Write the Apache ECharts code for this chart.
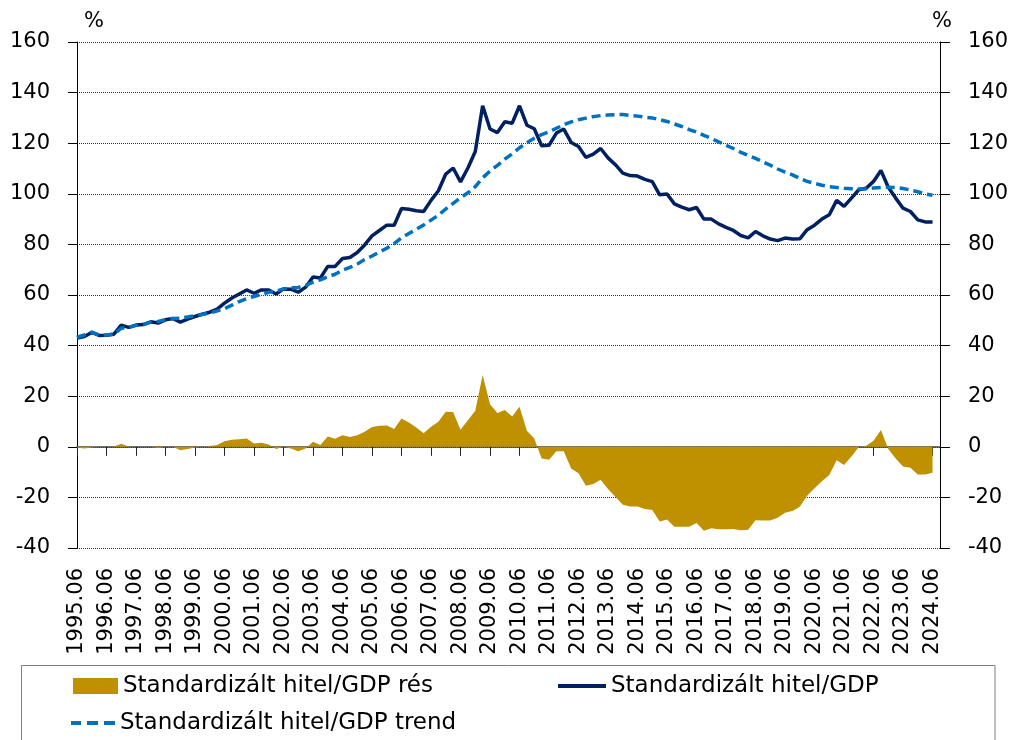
<!DOCTYPE html>
<html>
<head>
<meta charset="utf-8">
<script src="https://cdn.jsdelivr.net/npm/echarts@6/dist/echarts.min.js"></script>
<style>
html,body{margin:0;padding:0;background:#fff;}
#chart{width:1011px;height:740px;}
</style>
</head>
<body>
<div id="chart"></div>
<script>
// Quarterly categories 1995.06 .. 2024.06
const categories = [];
(function(){
  const months = ['03','06','09','12'];
  let y = 1995, q = 1;
  while (!(y === 2024 && q === 2)) {
    categories.push(y + '.' + months[q]);
    q++; if (q > 3) { q = 0; y++; }
  }
  categories.push('2024.06');
})();

const creditGDP = [43.0,43.6,45.2,44.0,44.1,44.5,48.1,47.2,48.1,48.3,49.4,48.9,50.2,50.7,49.3,50.5,51.5,52.4,53.2,54.4,
  56.8,58.8,60.4,62.0,60.7,62.0,62.0,60.4,62.4,62.3,61.1,63.1,67.1,66.7,71.3,71.3,74.4,74.8,76.8,79.8,
  83.4,85.5,87.6,87.6,94.2,93.9,93.3,93.0,97.4,101.2,107.8,110.2,104.7,110.2,116.7,134.8,125.6,124.2,128.5,127.9,
  134.8,127.1,125.7,119.0,119.2,124.0,125.6,120.3,118.7,114.4,115.7,117.9,114.2,111.5,108.2,107.2,107.0,105.7,104.8,99.6,
  99.9,96.0,94.7,93.7,94.6,90.0,90.0,88.1,86.7,85.5,83.5,82.6,85.1,83.4,82.1,81.5,82.5,82.1,82.2,85.8,
  87.6,90.0,91.7,97.4,95.0,98.3,101.6,102.2,104.9,109.2,102.6,98.3,94.3,93.0,89.7,88.9,88.9];

const creditTrend = [43.3,44.2,45.3,44.2,44.2,44.5,46.9,47.1,48.0,48.4,49.3,49.5,50.2,50.7,50.8,51.3,51.8,52.4,52.9,53.7,
  54.6,56.0,57.4,58.6,59.4,60.3,61.1,61.5,62.4,62.9,63.0,63.8,65.1,66.0,67.2,68.2,69.8,70.9,72.2,74.0,
  75.4,77.0,78.5,80.3,82.6,84.3,86.0,87.7,89.6,91.6,94.0,96.2,98.4,100.4,102.8,106.3,109.0,111.2,113.7,115.8,
  118.2,120.2,122.0,123.4,124.5,125.9,127.3,128.4,129.3,129.9,130.5,130.9,131.1,131.3,131.3,131.0,130.7,130.3,130.0,129.3,
  128.6,127.6,126.6,125.4,124.4,123.1,121.9,120.5,119.2,117.9,116.4,115.2,114.0,112.6,111.3,109.8,108.6,107.5,106.1,104.9,
  104.1,103.4,102.8,102.5,102.2,102.0,101.9,102.0,102.3,102.5,102.6,102.5,102.1,101.5,100.8,100.0,99.4];

const creditGap = [-0.3,-0.7,-0.3,0,0,0.1,1.2,0.1,0,0,0,-0.5,0,0,-1.4,-0.9,-0.3,0,0.3,0.7,
  2.2,2.8,3.0,3.3,1.3,1.6,0.9,-0.9,0,-0.7,-1.8,-0.7,2.0,0.7,4.1,3.2,4.6,3.9,4.6,5.9,
  7.8,8.3,8.4,7.0,11.2,9.6,7.6,5.4,7.9,9.9,13.9,13.8,6.7,10.5,14.2,28.4,16.8,13.4,14.5,12.0,
  15.8,6.3,3.3,-4.6,-5.1,-1.8,-1.8,-8.6,-10.5,-15.4,-14.7,-13.0,-16.7,-19.7,-22.9,-23.6,-23.6,-24.6,-25.0,-29.5,
  -28.7,-31.6,-31.6,-31.6,-30.1,-33.2,-32.2,-32.6,-32.6,-32.5,-33.0,-32.8,-29.0,-29.1,-29.1,-28.0,-26.1,-25.4,-23.7,-19.3,
  -16.4,-13.6,-11.1,-5.3,-7.2,-3.8,-0.1,0.4,2.4,6.6,-0.9,-4.6,-7.8,-8.3,-10.9,-10.9,-10.3];

const seriesNames = ['Standardizált hitel/GDP rés','Standardizált hitel/GDP','Standardizált hitel/GDP trend'];
const unitLabel = '%';

const FONT = 'DejaVu Sans';
const GOLD = '#BF9000', NAVY = '#002060', BLUE = '#0070C0';

const chart = echarts.init(document.getElementById('chart'));
const yAxisCommon = {
  type: 'value', min: -40, max: 160, interval: 20,
  axisLine: { show: true, lineStyle: { color: '#000', width: 1 } },
  axisTick: { show: true, length: 9, lineStyle: { color: '#000' } },
  axisLabel: { color: '#000', fontFamily: FONT, fontSize: 21, margin: 27 }
};
const legendCommon = {
  orient: 'horizontal', padding: 0,
  textStyle: { fontFamily: FONT, fontSize: 23, color: '#000', lineHeight: 24 },
  itemGap: 0
};
chart.setOption({
  animation: false,
  backgroundColor: '#fff',
  grid: { left: 77, right: 71, top: 42, bottom: 192, containLabel: false },
  xAxis: [
    {
      type: 'category', data: categories, boundaryGap: false, position: 'bottom',
      axisLine: { show: false, onZero: false },
      axisTick: { show: false },
      axisLabel: { rotate: 90, interval: 3, color: '#000', fontFamily: FONT, fontSize: 21, margin: 20 },
      splitLine: { show: false }
    },
    {
      type: 'category', data: categories, boundaryGap: false, position: 'bottom',
      axisLine: { show: true, onZero: true, onZeroAxisIndex: 0, lineStyle: { color: '#404040', width: 1.5 } },
      axisTick: { show: true, interval: 3, length: 9, lineStyle: { color: '#222', width: 1 } },
      axisLabel: { show: false },
      splitLine: { show: false }
    }
  ],
  yAxis: [
    Object.assign({}, yAxisCommon, {
      position: 'left',
      splitLine: { show: true, lineStyle: { color: '#333', type: [1, 1], width: 1 } }
    }),
    Object.assign({}, yAxisCommon, {
      position: 'right',
      axisLabel: Object.assign({}, yAxisCommon.axisLabel, { margin: 28 }),
      axisTick: { show: true, length: 10, lineStyle: { color: '#000' } },
      splitLine: { show: false }
    })
  ],
  legend: [
    Object.assign({}, legendCommon, {
      left: 73, top: 674, itemWidth: 45, itemHeight: 16,
      data: [{ name: seriesNames[0], icon: 'rect' }]
    }),
    Object.assign({}, legendCommon, {
      left: 558, top: 674, itemWidth: 48, itemHeight: 4,
      data: [{ name: seriesNames[1], icon: 'rect' }]
    }),
    Object.assign({}, legendCommon, {
      left: 71, top: 711, itemWidth: 44, itemHeight: 4, symbolKeepAspect: false,
      data: [{ name: seriesNames[2], icon: 'path://M0,0H10V4H0Z M16,0H27V4H16Z M33,0H44V4H33Z' }]
    })
  ],
  graphic: [
    { type: 'rect', shape: { x: 21.5, y: 665.5, width: 973.5, height: 100 },
      style: { fill: 'none', stroke: '#7f7f7f', lineWidth: 1 }, silent: true, z: -1 },
    { type: 'text', left: 84, top: 11, style: { text: unitLabel, font: '21px "DejaVu Sans"', fill: '#000' } },
    { type: 'text', left: 932, top: 11, style: { text: unitLabel, font: '21px "DejaVu Sans"', fill: '#000' } }
  ],
  series: [
    {
      name: seriesNames[0], type: 'line', data: creditGap,
      xAxisIndex: 0, yAxisIndex: 0,
      symbol: 'none', smooth: false,
      lineStyle: { width: 0, color: GOLD },
      itemStyle: { color: GOLD },
      areaStyle: { color: GOLD, opacity: 1 },
      z: 1
    },
    {
      name: seriesNames[1], type: 'line', data: creditGDP,
      xAxisIndex: 0, yAxisIndex: 0,
      symbol: 'none',
      lineStyle: { width: 3.5, color: NAVY },
      itemStyle: { color: NAVY },
      z: 3
    },
    {
      name: seriesNames[2], type: 'line', data: creditTrend,
      xAxisIndex: 0, yAxisIndex: 0,
      symbol: 'none',
      lineStyle: { width: 3.5, color: BLUE, type: [9, 5] },
      itemStyle: { color: BLUE },
      z: 4
    }
  ]
});
</script>
</body>
</html>
